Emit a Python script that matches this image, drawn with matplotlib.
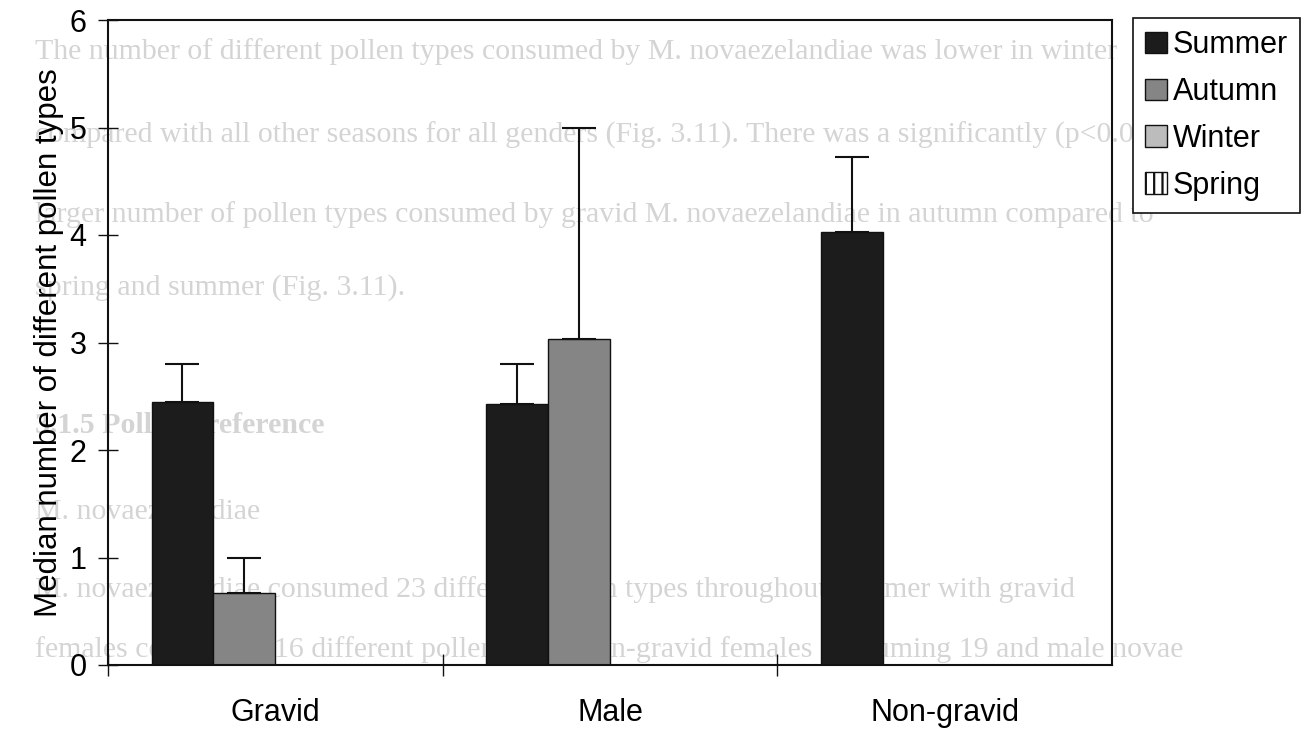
import numpy as np
import matplotlib
matplotlib.use("Agg")
import matplotlib.pyplot as plt

plt.rcParams["font.family"] = ["Liberation Sans", "DejaVu Sans"]
plt.rcParams["hatch.linewidth"] = 1.6

# ── Data ────────────────────────────────────────────────────────────────────
groups = ["Gravid", "Male", "Non-gravid"]
seasons = ["Summer", "Autumn", "Winter", "Spring"]

# median number of pollen types per season for each group
summer = [2.45, 2.43, 4.03]
autumn = [0.67, 3.03, 0.0]
winter = [0.0, 0.0, 0.0]
spring = [0.0, 0.0, 0.0]

# upper error (one-sided)
summer_err = [0.35, 0.37, 0.70]
autumn_err = [0.33, 1.97, 0.0]
winter_err = [0.0, 0.0, 0.0]
spring_err = [0.0, 0.0, 0.0]

# faint print from the facing page showing through the paper
page_lines = [
    "The number of different pollen types consumed by M. novaezelandiae was lower in winter",
    "compared with all other seasons for all genders (Fig. 3.11). There was a significantly (p<0.05)",
    "larger number of pollen types consumed by gravid M. novaezelandiae in autumn compared to",
    "spring and summer (Fig. 3.11).",
    "3.1.5 Pollen preference",
    "M. novaezelandiae",
    "M. novaezelandiae consumed 23 different pollen types throughout summer with gravid",
    "females consuming 16 different pollen types, non-gravid females consuming 19 and male novae",
]
page_y = [52, 135, 215, 288, 425, 512, 590, 650]

# ── Figure ──────────────────────────────────────────────────────────────────
W, H = 1309, 729
fig = plt.figure(figsize=(W / 100, H / 100), dpi=100)
fig.patch.set_facecolor("white")

for txt, yp in zip(page_lines, page_y):
    weight = "bold" if txt.startswith("3.1.5") else "normal"
    fig.text(35 / W, 1 - yp / H, txt, fontsize=21.5, color="#d4d4d4",
             family=["Liberation Serif", "DejaVu Serif"], fontweight=weight,
             va="center", ha="left", zorder=-5)

ax = fig.add_axes([108 / W, 1 - 665 / H, (1112 - 108) / W, (665 - 20) / H])
ax.set_facecolor("none")

x = np.arange(len(groups))
bw = 0.185
values = [summer, autumn, winter, spring]
errors = [summer_err, autumn_err, winter_err, spring_err]
faces = ["#1c1c1c", "#858585", "#bcbcbc", "white"]
hatches = [None, None, None, "||"]

for i, (vals, errs) in enumerate(zip(values, errors)):
    pos = x + (i - 1.5) * bw
    ax.bar(pos, vals, width=bw, color=faces[i], edgecolor="#111111",
           linewidth=1.0, hatch=hatches[i], label=seasons[i], zorder=2)
    keep = [j for j in range(len(groups)) if vals[j] > 0]
    if keep:
        ax.errorbar(pos[keep], np.array(vals)[keep],
                    yerr=[np.zeros(len(keep)), np.array(errs)[keep]],
                    fmt="none", ecolor="#111111", elinewidth=1.5,
                    capsize=12, capthick=1.5, zorder=3)

ax.set_xlim(-0.5, 2.5)
ax.set_ylim(0, 6)
ax.set_yticks(range(0, 7))
ax.tick_params(axis="y", direction="inout", length=15, width=1.0,
               labelsize=22, pad=8, color="#111111")

# group boundaries as ticks, group names centred between them
ax.set_xticks([-0.5, 0.5, 1.5])
ax.set_xticklabels([])
ax.tick_params(axis="x", which="major", direction="inout", length=16, width=1.0,
               color="#111111")
ax.set_xticks(x, minor=True)
ax.set_xticklabels(groups, minor=True)
ax.tick_params(axis="x", which="minor", length=0, labelsize=22, pad=24)

for s in ax.spines.values():
    s.set_linewidth(1.5)
    s.set_color("#111111")

ax.set_ylabel("Median number of different pollen types", fontsize=22.5, labelpad=4)

leg = ax.legend(loc="upper left", bbox_to_anchor=(1133 / W, 1 - 18 / H),
                bbox_transform=fig.transFigure, fontsize=22, frameon=True,
                fancybox=False, edgecolor="#111111", framealpha=1,
                handlelength=0.7, handleheight=0.7, handletextpad=0.2,
                labelspacing=0.55, borderpad=0.4, borderaxespad=0)
leg.get_frame().set_linewidth(1.2)

fig.savefig("out.png", dpi=100, facecolor="white")
